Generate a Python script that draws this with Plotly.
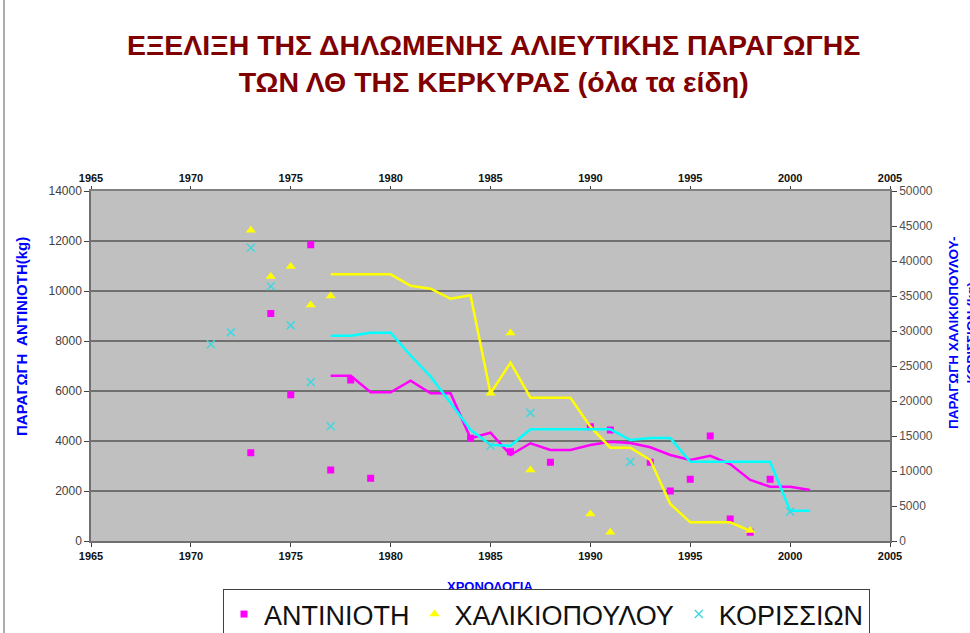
import plotly.graph_objects as go

# ---------------- data ----------------
ant_pt_years = [1973, 1974, 1975, 1976, 1977, 1978, 1979, 1984, 1986, 1988, 1990, 1991,
                1993, 1994, 1995, 1996, 1997, 1998, 1999]
ant_pt_vals = [3530, 9100, 5850, 11850, 2840, 6440, 2510, 4110, 3570, 3150, 4570, 4440,
               3150, 2000, 2470, 4200, 880, 350, 2470]

hal_pt_years = [1973, 1974, 1975, 1976, 1977, 1985, 1986, 1987, 1990, 1991, 1998]
hal_pt_vals = [44400, 37800, 39200, 33700, 35000, 21100, 29700, 10140, 3860, 1240, 1500]

kor_pt_years = [1971, 1972, 1973, 1974, 1975, 1976, 1977, 1985, 1987, 1992, 2000]
kor_pt_vals = [28100, 29800, 41900, 36400, 30800, 22700, 16400, 13600, 18300, 11300, 4200]

ant_line_years = list(range(1977, 2002))
ant_line_vals = [6610, 6610, 5950, 5950, 6410, 5910, 5910, 4110, 4330, 3440, 3910, 3640,
                 3640, 3840, 3970, 3920, 3750, 3440, 3240, 3410, 3080, 2440, 2170, 2170, 2040]

hal_line_years = list(range(1977, 1999))
hal_line_vals = [38100, 38100, 38100, 38100, 36450, 36050, 34600, 35100, 21100, 25470,
                 20470, 20470, 20470, 16330, 13330, 13330, 11570, 5300, 2670, 2670, 2670, 1450]

kor_line_years = list(range(1977, 2002))
kor_line_vals = [29330, 29330, 29760, 29760, 26500, 23500, 19700, 15900, 13700, 13600,
                 15950, 15950, 15950, 15950, 15950, 14430, 14700, 14700, 11330, 11330,
                 11330, 11330, 11330, 4330, 4330]

x_ticks = [1965, 1970, 1975, 1980, 1985, 1990, 1995, 2000, 2005]

names = ["ΑΝΤΙΝΙΟΤΗ", "ΧΑΛΙΚΙΟΠΟΥΛΟΥ", "ΚΟΡΙΣΣΙΩΝ"]
title_text = "ΕΞΕΛΙΞΗ ΤΗΣ ΔΗΛΩΜΕΝΗΣ ΑΛΙΕΥΤΙΚΗΣ ΠΑΡΑΓΩΓΗΣ<br>ΤΩΝ ΛΘ ΤΗΣ ΚΕΡΚΥΡΑΣ (όλα τα είδη)"
left_title = "ΠΑΡΑΓΩΓΗ  ΑΝΤΙΝΙΟΤΗ(kg)"
right_title = "ΠΑΡΑΓΩΓΗ ΧΑΛΙΚΙΟΠΟΥΛΟΥ-<br>ΚΟΡΙΣΣΙΩΝ (kg)"
x_title = "ΧΡΟΝΟΛΟΓΙΑ"

# ---------------- layout geometry ----------------
W, H = 970, 633
L, R, T, B = 91, 890, 191, 541
FONT = "Liberation Sans, Arial, sans-serif"

def px(xp):
    return (xp - L) / (R - L)

def py(yp):
    return (B - yp) / (B - T)

MAG = "#FF00FF"
YEL = "#FFFF00"
CYA = "#00FFFF"

fig = go.Figure()

# lines (not in legend)
fig.add_trace(go.Scatter(x=ant_line_years, y=ant_line_vals, mode="lines",
                         line=dict(color=MAG, width=2.5), showlegend=False, yaxis="y"))
fig.add_trace(go.Scatter(x=hal_line_years, y=hal_line_vals, mode="lines",
                         line=dict(color=YEL, width=2.5), showlegend=False, yaxis="y2"))
fig.add_trace(go.Scatter(x=kor_line_years, y=kor_line_vals, mode="lines",
                         line=dict(color=CYA, width=2.5), showlegend=False, yaxis="y2"))

# points
fig.add_trace(go.Scatter(x=ant_pt_years, y=ant_pt_vals, mode="markers", name=names[0],
                         marker=dict(symbol="square", size=7, color=MAG), yaxis="y"))
fig.add_trace(go.Scatter(x=hal_pt_years, y=hal_pt_vals, mode="markers", name=names[1],
                         marker=dict(symbol="triangle-up", size=9, color=YEL), yaxis="y2"))
fig.add_trace(go.Scatter(x=kor_pt_years, y=kor_pt_vals, mode="markers", name=names[2],
                         marker=dict(symbol="x-thin", size=8, color="#40D8E0",
                                     line=dict(color="#40D8E0", width=1.5)), yaxis="y2"))
# invisible trace for top axis
fig.add_trace(go.Scatter(x=[x_ticks[0], x_ticks[-1]], y=[0, 0], mode="markers",
                         marker=dict(opacity=0), showlegend=False, hoverinfo="skip",
                         xaxis="x2", yaxis="y"))

year_font = dict(family=FONT, size=11, color="#111111")
fig.update_layout(
    width=W, height=H,
    margin=dict(l=L, r=W - R, t=T, b=H - B, pad=0, autoexpand=False),
    paper_bgcolor="white",
    plot_bgcolor="#C0C0C0",
    font=dict(family=FONT),
    xaxis=dict(range=[1965, 2005], tickvals=x_ticks, ticktext=[f"<b>{v}</b>" for v in x_ticks],
               tickfont=year_font, showgrid=False, zeroline=False, automargin=False,
               showline=True, linecolor="#707070", linewidth=1.5,
               ticks="outside", ticklen=4, tickcolor="#404040"),
    xaxis2=dict(range=[1965, 2005], tickvals=x_ticks, ticktext=[f"<b>{v}</b>" for v in x_ticks],
                tickfont=year_font, overlaying="x", side="top", anchor="y", automargin=False,
                showgrid=False, zeroline=False, showline=True, linecolor="#808080",
                linewidth=1.5, ticks="outside", ticklen=3, tickcolor="#404040"),
    yaxis=dict(range=[0, 14000], dtick=2000, tickformat="d",
               tickfont=dict(family=FONT, size=12, color="#404040"), automargin=False,
               showgrid=True, gridcolor="#707070", gridwidth=1.5, zeroline=False,
               showline=True, linecolor="#707070", linewidth=1.5,
               ticks="outside", ticklen=5, tickcolor="#404040"),
    yaxis2=dict(range=[0, 50000], dtick=5000, tickformat="d",
                tickfont=dict(family=FONT, size=12, color="#505050"), automargin=False,
                overlaying="y", side="right", anchor="x", showgrid=False, zeroline=False,
                showline=True, linecolor="#707070", linewidth=1.5,
                ticks="outside", ticklen=5, tickcolor="#404040"),
    legend=dict(orientation="h", x=px(223), y=py(589), xanchor="left", yanchor="top",
                bgcolor="white", bordercolor="#404040", borderwidth=1,
                font=dict(family=FONT, size=27, color="#111111"),
                itemsizing="trace", tracegroupgap=0, itemwidth=30),
    showlegend=True,
)

fig.add_annotation(text=f"<b>{title_text}</b>", xref="paper", yref="paper",
                   x=px(493), y=py(27), xanchor="center", yanchor="top", showarrow=False,
                   font=dict(family=FONT, size=28.5, color="#800000"))
fig.add_annotation(text=f"<b>{left_title}</b>", xref="paper", yref="paper",
                   x=px(21), y=py(337), xanchor="center", yanchor="middle", showarrow=False,
                   textangle=-90, font=dict(family=FONT, size=15, color="#0000FF"))
fig.add_annotation(text=f"<b>{right_title}</b>", xref="paper", yref="paper",
                   x=px(962), y=py(333), xanchor="center", yanchor="middle", showarrow=False,
                   textangle=-90, font=dict(family=FONT, size=13.5, color="#0000FF"))
fig.add_annotation(text=f"<b>{x_title}</b>", xref="paper", yref="paper",
                   x=px(490), y=py(577), xanchor="center", yanchor="top", showarrow=False,
                   height=10, valign="top",
                   font=dict(family=FONT, size=13, color="#0000FF"))

# outer frame line at left
fig.add_shape(type="line", xref="paper", yref="paper", x0=px(4), x1=px(4), y0=py(0), y1=py(633),
              line=dict(color="#909090", width=1.5))

fig.write_html("out.html", config={"displayModeBar": False},
               post_script="document.body.style.margin='0';document.body.style.overflow='hidden';")
